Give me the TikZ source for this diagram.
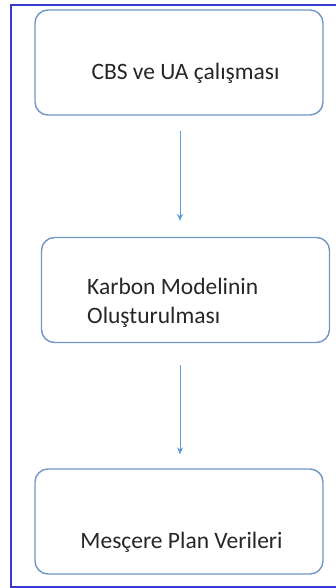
\documentclass[tikz,border=0pt]{standalone}
\usepackage{fontspec}
\setmainfont{Carlito}
\usetikzlibrary{arrows.meta}
\definecolor{boxline}{HTML}{7096C4}
\definecolor{arrowline}{HTML}{5B9BD5}
\definecolor{frameline}{HTML}{3A3ACF}
\tikzset{
  stepbox/.style={draw=boxline, line width=1.4pt, rounded corners=13pt, minimum width=288pt, minimum height=105pt, inner sep=0pt},
  steptext/.style={font=\fontsize{23.5}{29}\selectfont, text=black!85, inner sep=0pt},
  flow/.style={draw=arrowline, line width=1pt, -{Stealth[length=7pt,width=6pt]}}
}
\begin{document}
\begin{tikzpicture}[x=1pt,y=-1pt]
\useasboundingbox (0,0) rectangle (335,588);
\draw[frameline, line width=1.5pt] (336,5) -- (11,5) -- (11,587) -- (336,587);

\node[stepbox] (cbs) at (179,62.5) {};
\node[steptext] (cbstext) at (185.5,73) {CBS ve UA çalışması};

\node[stepbox] (karbon) at (185.5,290) {};
\node[steptext, align=left, anchor=west] (karbontext) at (87,302.5) {Karbon Modelinin\\Oluşturulması};

\node[stepbox] (mescere) at (179,521.5) {};
\node[steptext] (mescetext) at (181.5,542) {Mesçere Plan Verileri};

\draw[flow, shorten <=15pt, shorten >=16pt] ([xshift=1pt]cbs.south) -- ([xshift=1pt]cbs.south |- karbon.north);
\draw[flow, shorten <=22pt, shorten >=14pt] ([xshift=1pt]cbs.south |- karbon.south) -- ([xshift=1pt]cbs.south |- mescere.north);
\end{tikzpicture}
\end{document}
